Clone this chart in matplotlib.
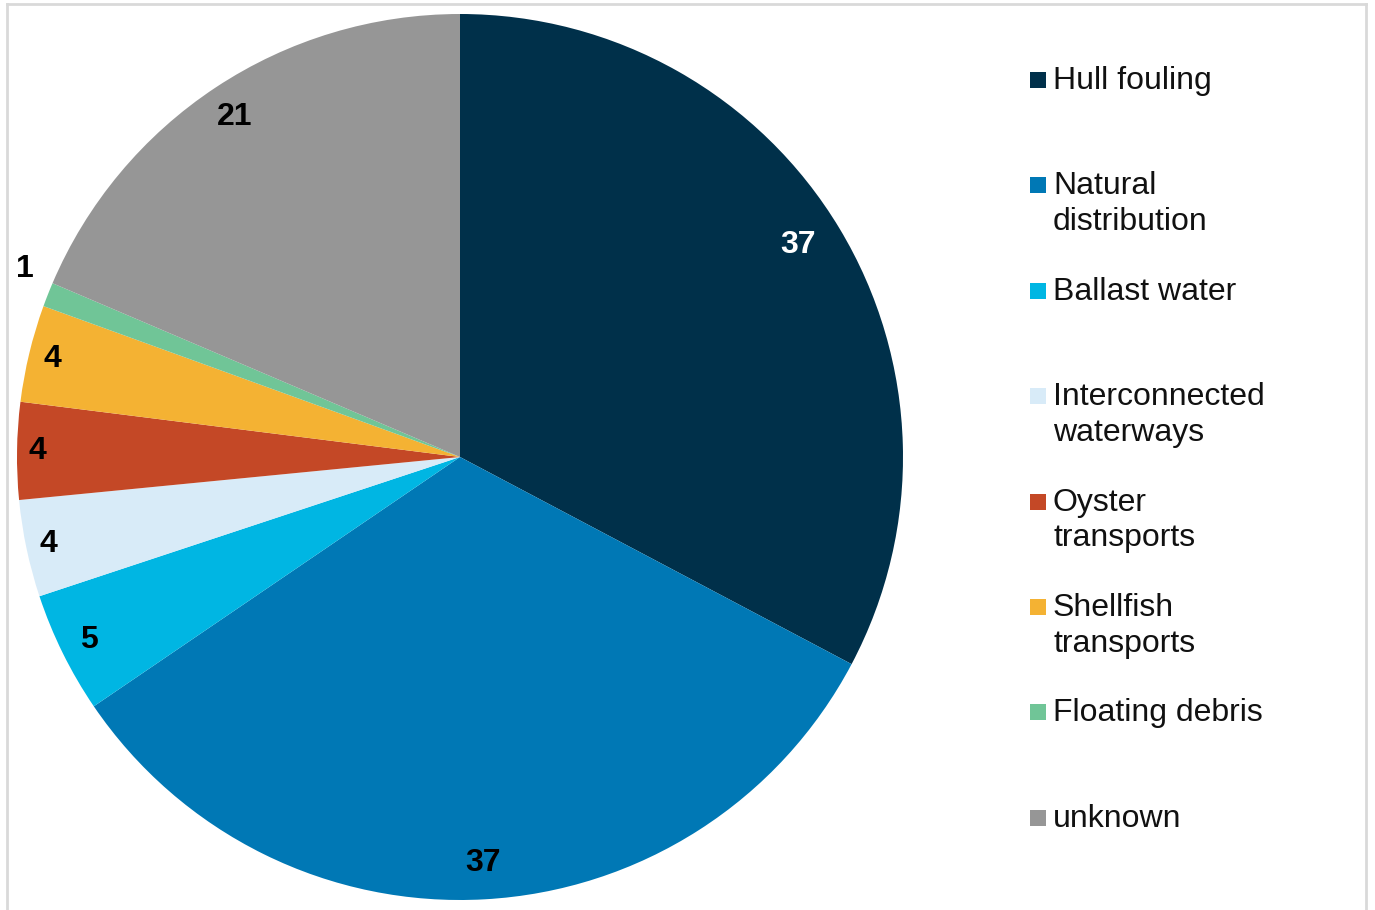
import numpy as np
import matplotlib.pyplot as plt
from matplotlib.patches import Rectangle
from matplotlib.lines import Line2D

categories = ["Hull fouling", "Natural\ndistribution", "Ballast water",
              "Interconnected\nwaterways", "Oyster\ntransports", "Shellfish\ntransports",
              "Floating debris", "unknown"]
values = [37, 37, 5, 4, 4, 4, 1, 21]
colors = ["#00304a", "#0078b5", "#00b6e3", "#d8ebf8", "#c44826", "#f4b233", "#70c597", "#969696"]
label_colors = ["white", "black", "black", "black", "black", "black", "black", "black"]
label_dist = [0.90, 0.918, 0.934, 0.95, 0.955, 0.946, 1.07, 0.921]
label_shift = [1.0, 0, 0, 0, 0, 0, -1.8, 0]  # degrees, nudges off the mid-angle

plt.rcParams["font.family"] = ["Liberation Sans", "DejaVu Sans"]

W, H = 1375, 910
fig = plt.figure(figsize=(W / 100, H / 100), dpi=100)

# pie axes: square box in pixels
cx, cy, r = 460, 457, 443
ax = fig.add_axes([(cx - r) / W, (H - cy - r) / H, 2 * r / W, 2 * r / H])
wedges, _ = ax.pie(values, colors=colors, startangle=90, counterclock=False,
                   radius=1, wedgeprops=dict(linewidth=0))
ax.set_xlim(-1, 1)
ax.set_ylim(-1, 1)
ax.set_aspect("equal")
ax.axis("off")

for w, v, c, d, s in zip(wedges, values, label_colors, label_dist, label_shift):
    mid = np.deg2rad((w.theta1 + w.theta2) / 2 + s)
    ax.text(d * np.cos(mid), d * np.sin(mid), str(v), ha="center", va="center",
            fontsize=23, fontweight="bold", color=c)

# legend drawn by hand (fixed pitch, first line aligned with the square)
y0, pitch = 80, 105.4
for i, (name, col) in enumerate(zip(categories, colors)):
    yc = y0 + pitch * i
    fig.add_artist(Rectangle((1030 / W, (H - yc - 8) / H), 16 / W, 16 / H,
                             transform=fig.transFigure, color=col, lw=0))
    fig.text(1053 / W, (H - yc + 14) / H, name, ha="left", va="top",
             fontsize=23, linespacing=1.25, color="#111111")

# light frame (top, left, right)
fc = "#d9d9d9"
fig.add_artist(Line2D([7 / W, 7 / W], [0, 1 - 4 / H], color=fc, lw=2, transform=fig.transFigure))
fig.add_artist(Line2D([1366 / W, 1366 / W], [0, 1 - 4 / H], color=fc, lw=2, transform=fig.transFigure))
fig.add_artist(Line2D([7 / W, 1366 / W], [1 - 4 / H, 1 - 4 / H], color=fc, lw=2, transform=fig.transFigure))

fig.savefig("out.png", dpi=100)
